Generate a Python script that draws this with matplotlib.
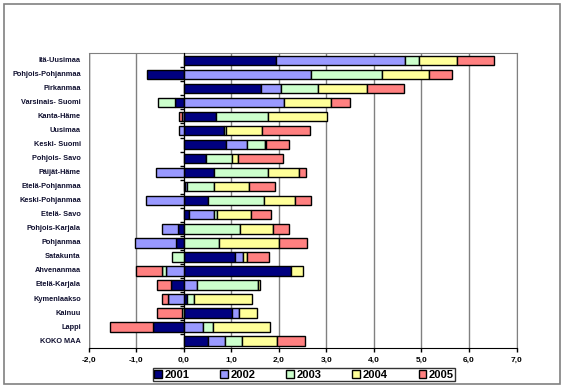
import numpy as np
import matplotlib
matplotlib.use("Agg")
import matplotlib.pyplot as plt
from matplotlib.patches import Rectangle
from matplotlib.ticker import FuncFormatter

regions = ["Itä-Uusimaa", "Pohjois-Pohjanmaa", "Pirkanmaa", "Varsinais- Suomi",
           "Kanta-Häme", "Uusimaa", "Keski- Suomi", "Pohjois- Savo", "Päijät-Häme",
           "Etelä-Pohjanmaa", "Keski-Pohjanmaa", "Etelä- Savo", "Pohjois-Karjala",
           "Pohjanmaa", "Satakunta", "Ahvenanmaa", "Etelä-Karjala", "Kymenlaakso",
           "Kainuu", "Lappi", "KOKO MAA"]

years = ["2001", "2002", "2003", "2004", "2005"]

v2001 = [1.95, -0.78, 1.63, -0.19, 0.67, 0.85, 0.88, 0.46, 0.64, 0.03, 0.51,
         0.12, -0.12, -0.17, 1.07, 2.26, -0.27, 0.08, 1.02, -0.64, 0.52]
v2002 = [2.70, 2.67, 0.42, 2.11, -0.04, -0.10, 0.46, 0.0, -0.58, 0.03, -0.80,
         0.52, -0.33, -0.85, 0.18, -0.37, 0.27, -0.32, 0.15, 0.41, 0.34]
v2003 = [0.29, 1.50, 0.78, -0.35, 1.10, 0.05, 0.36, 0.56, 1.14, 0.58, 1.17,
         0.07, 1.18, 0.74, -0.25, -0.09, 1.29, 0.13, -0.04, 0.20, 0.36]
v2004 = [0.81, 0.98, 1.03, 0.98, 1.24, 0.74, 0.04, 0.13, 0.65, 0.74, 0.67,
         0.71, 0.69, 1.26, 0.08, 0.25, 0.05, 1.23, 0.37, 1.21, 0.74]
v2005 = [0.78, 0.50, 0.77, 0.41, -0.05, 1.02, 0.47, 0.94, 0.14, 0.55, 0.33,
         0.42, 0.34, 0.60, 0.47, -0.54, -0.29, -0.14, -0.53, -0.90, 0.60]

colors = ["#000080", "#9999FF", "#CCFFCC", "#FFFF99", "#FF8080"]

plt.rcParams['font.family'] = ['Liberation Sans', 'DejaVu Sans']

fig = plt.figure(figsize=(5.64, 3.89), dpi=100)
ax = fig.add_axes([0.157, 0.105, 0.759, 0.758])

n = len(regions)
y = np.arange(n)[::-1]
pos_base = np.zeros(n)
neg_base = np.zeros(n)
bars = []
for vals, lab, col in zip([v2001, v2002, v2003, v2004, v2005], years, colors):
    vals = np.array(vals)
    left = np.where(vals >= 0, pos_base, neg_base)
    b = ax.barh(y, vals, left=left, height=0.67, color=col, edgecolor='black',
                linewidth=1.0, label=lab, zorder=3)
    bars.append(b)
    pos_base = pos_base + np.where(vals >= 0, vals, 0)
    neg_base = neg_base + np.where(vals < 0, vals, 0)

ax.set_xlim(-2, 7)
ax.set_ylim(-0.5, n - 0.5)
ax.set_xticks(np.arange(-2, 8, 1))
ax.xaxis.set_major_formatter(FuncFormatter(lambda v, p: f"{v:.1f}".replace('.', ',')))
ax.grid(axis='x', color='#808080', linewidth=1.0, zorder=0)

# y axis drawn at zero, ticks between categories
ax.spines['left'].set_position(('data', 0))
ax.spines['left'].set_color('black')
ax.spines['left'].set_zorder(4)
ax.set_yticks(np.arange(n) - 0.5, minor=True)
ax.set_yticks([])
ax.tick_params(axis='y', which='minor', length=3, direction='out', width=1)
for sp in ['top', 'right']:
    ax.spines[sp].set_color('#808080')
ax.spines['bottom'].set_color('black')
ax.tick_params(axis='x', length=3, width=1, direction='out', pad=3)
for t in ax.get_xticklabels():
    t.set_fontsize(6)
    t.set_fontweight('bold')

trans = ax.get_yaxis_transform()
for yy, name in zip(y, regions):
    ax.text(-0.018, yy, name, transform=trans, ha='right', va='center',
            fontsize=5.3, fontweight='bold', color='#101030')

# gray boundary at -2
ax.add_line(plt.Line2D([0, 0], [0, 1], transform=ax.transAxes,
                       color='#808080', lw=1.0, zorder=1))

leg = fig.legend(handles=bars, labels=years, loc='center', ncol=5,
                 bbox_to_anchor=(0.539, 0.037), frameon=True, fancybox=False,
                 edgecolor='black', prop={'weight': 'bold', 'size': 8},
                 handlelength=0.7, handleheight=0.7, handletextpad=0.2,
                 columnspacing=2.8, borderpad=0.1)
leg.get_frame().set_linewidth(1.0)

fig.add_artist(Rectangle((4 / 564, 1 - 384 / 389), 556 / 564, 380 / 389,
                         transform=fig.transFigure, fill=False,
                         edgecolor='#808080', linewidth=1.2))

fig.savefig("out.png", dpi=100)
